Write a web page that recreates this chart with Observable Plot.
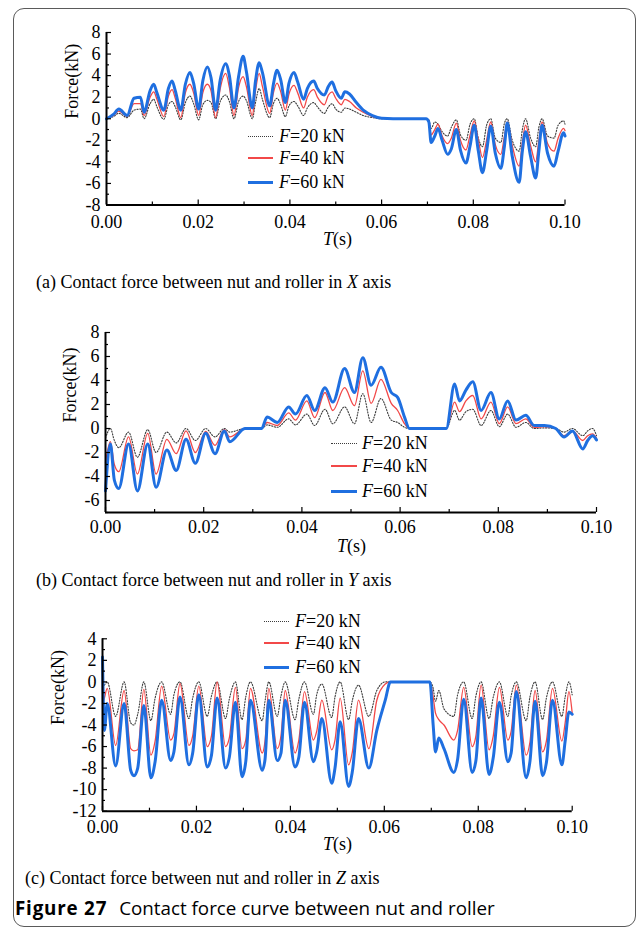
<!DOCTYPE html>
<html><head><meta charset="utf-8">
<script src="https://cdn.jsdelivr.net/npm/d3@7"></script>
<script src="https://cdn.jsdelivr.net/npm/@observablehq/plot@0.6"></script>
<style>
body{margin:0;background:#fff;}
#fig{position:relative;width:637px;height:929px;overflow:hidden;font-family:"Liberation Serif",serif;color:#000;background:#fff;}
#frame{position:absolute;left:13px;top:8px;width:623px;height:919px;border:1.3px solid #5a5a5a;border-radius:11px;box-sizing:border-box;}
.abs{position:absolute;white-space:nowrap;font-size:18px;line-height:18px;}
.sw{position:absolute;}
</style></head><body><div id="fig"><div id="frame"></div></div>
<script>
// ---------- data ----------
const seriesLabels = ["20", "40", "60"];
const xMajor = [0, 0.02, 0.04, 0.06, 0.08, 0.1];
const xMinor = [0.01, 0.03, 0.05, 0.07, 0.09];

// (a) X axis
const tA = [0,0.0015,0.0027,0.0045,0.006,0.0074,0.0082,0.0095,0.0103,0.011,
 0.0125,0.0135,0.0143,0.015,0.0162,0.0172,0.0182,0.019,0.0201,0.021,
 0.022,0.0228,0.0238,0.0248,0.026,0.0268,0.0278,0.0288,0.0298,0.0305,
 0.0318,0.0325,0.0333,0.034,0.0356,0.0364,0.0372,0.038,0.039,0.0398,
 0.0409,0.0417,0.043,0.0438,0.0452,0.046,0.0475,0.0484,0.0492,0.05,
 0.0512,0.052,0.053,0.0545,0.056,0.058,0.06,0.065,0.0697,0.0703,
 0.0708,0.0716,0.0723,0.0732,0.0744,0.0752,0.0763,0.0772,0.0784,0.0793,
 0.0802,0.0811,0.082,0.0829,0.0838,0.0848,0.086,0.0868,0.0874,0.0885,
 0.09,0.0907,0.0914,0.0925,0.0936,0.0943,0.095,0.0962,0.0976,0.0985,
 0.0997,0.1];
const a60 = [0,0.4,0.9,0.3,1.9,2.0,0.6,2.6,3.2,2.4,
 0.8,2.8,3.5,2.6,0.8,3.2,4.3,3.3,0.9,3.5,
 4.8,3.8,0.8,3.6,5.1,4.0,1.0,3.9,5.8,4.4,
 1.0,3.5,5.2,4.3,1.2,3.2,4.5,3.6,1.5,3.3,
 4.3,3.4,1.8,2.8,3.5,2.8,2.2,3.0,3.4,2.6,
 1.9,2.5,2.3,1.5,0.8,0.3,0.05,0,0,-0.3,
 -2.2,-1.6,-0.9,-2.0,-3.3,-2.8,-1.0,-2.9,-4.1,-2.5,
 -0.6,-3.0,-5.0,-3.0,-0.7,-3.2,-4.6,-2.5,-0.4,-3.5,
 -5.9,-3.0,-1.2,-3.5,-5.5,-3.0,-0.6,-3.2,-4.4,-3.0,
 -1.3,-1.6];
const a40 = [0,0.3,0.7,0.2,1.4,1.4,0.3,2.0,2.5,1.8,
 0.2,2.1,2.7,1.9,0.1,2.4,3.2,2.4,0.3,2.4,
 3.2,2.6,0.1,2.8,4.2,2.9,0.3,2.9,3.9,3.0,
 0.3,2.6,4.2,3.0,0.5,2.4,3.3,2.5,0.8,2.3,
 3.1,2.4,1.0,2.0,2.7,2.0,1.3,2.2,2.5,1.9,
 1.3,1.8,1.6,1.0,0.6,0.2,0.03,0,0,-0.2,
 -1.5,-1.0,-0.5,-1.6,-2.3,-1.8,-0.4,-2.0,-2.9,-1.5,
 -0.2,-2.0,-3.6,-2.0,-0.3,-2.4,-3.3,-1.6,-0.3,-2.5,
 -4.4,-2.2,-0.6,-2.5,-4.0,-2.0,-0.3,-2.3,-3.0,-1.8,
 -0.9,-1.1];
const a20 = [0,0.2,0.5,0.1,0.8,0.9,0.0,1.4,1.8,1.1,
 -0.05,1.3,1.6,1.1,-0.1,1.5,2.1,1.4,-0.1,1.3,
 1.7,1.5,0.0,1.6,2.2,1.6,0.0,1.6,2.1,1.7,
 0.0,1.5,2.8,1.8,0.1,1.4,1.9,1.3,0.2,1.2,
 1.6,1.2,0.3,1.0,1.5,1.1,0.5,1.1,1.4,0.9,
 0.6,1.0,0.9,0.6,0.3,0.1,0.0,0,0,-0.1,
 -0.9,-0.3,-0.5,-1.2,-1.6,-0.8,-0.1,-1.5,-2.0,-0.5,
 0.0,-1.8,-2.6,-0.6,0.0,-1.8,-2.2,-0.4,0.0,-2.0,
 -3.0,-1.0,0.0,-1.8,-2.6,-0.8,0.0,-1.6,-1.8,-0.6,
 -0.2,-0.5];
const yMajorA = [-8,-6,-4,-2,0,2,4,6,8];
const yMinorA = [-7,-5,-3,-1,1,3,5,7];

// (b) Y axis
const tB = [0,0.001,0.0018,0.0027,0.0047,0.0065,0.0086,0.0103,0.0125,0.0144,
 0.0164,0.0183,0.0204,0.0223,0.0242,0.0253,0.0284,0.0318,0.0329,0.035,
 0.0373,0.0387,0.041,0.0426,0.0447,0.0463,0.0487,0.0507,0.0524,0.0541,
 0.0561,0.0582,0.0595,0.0609,0.0619,0.0694,0.0711,0.0721,0.0734,0.0748,
 0.0765,0.0785,0.0802,0.0819,0.0836,0.0856,0.0873,0.0894,0.0917,0.0934,
 0.0951,0.0972,0.0982,0.0992,0.1];
const b60 = [-5.2,-1.3,-4.3,-5.0,-1.3,-5.2,-1.3,-4.9,-1.8,-3.5,
 -0.9,-2.9,-0.4,-2.1,-0.2,-1.1,0,0,0.95,0.5,
 1.8,1.2,2.75,1.5,3.4,2.2,5.0,3.0,5.9,3.6,
 5.1,3.0,2.6,0.95,0,0,3.7,2.3,3.2,3.9,
 1.5,3.0,0.8,2.3,0.7,1.1,0.25,0.25,0,-0.7,
 -0.2,-1.7,-1.0,-0.6,-0.95];
const b40 = [-2.8,-1.1,-3.0,-3.6,-0.7,-3.8,-0.4,-3.8,-0.9,-2.1,
 -0.2,-2.0,-0.25,-1.4,-0.1,-0.7,0,0,0.5,0.25,
 1.3,0.7,2.3,0.9,3.0,1.5,3.4,1.9,4.8,2.1,
 4.1,2.1,1.5,0.4,0,0,2.2,1.4,2.3,2.75,
 0.8,2.2,0.4,1.8,0.4,0.8,0.1,0.15,0,-0.6,
 -0.2,-1.0,-0.6,-0.45,-0.8];
const b20 = [-0.8,0,-1.0,-1.6,-0.3,-2.4,-0.1,-2.0,-0.3,-1.2,
 0,-1.0,0,-0.7,0,-0.3,0,0,0.3,0.1,
 0.8,0.3,1.2,0.25,1.6,0.4,1.8,0.4,2.9,0.5,
 2.5,0.7,0.5,0.1,0,0,1.5,0.7,1.4,1.6,
 0.25,1.5,0.15,1.2,0.1,0.5,0,0.05,0,-0.3,
 0,-0.6,-0.2,0,-0.6];
const yMajorB = [-6,-4,-2,0,2,4,6,8];
const yMinorB = [-7,-5,-3,-1,1,3,5,7];

// (c) Z axis
const tC = [0,0.0004,0.0010,0.0028,0.0046,0.0060,0.0067,0.0075,0.0088,0.0103,
 0.0112,0.0126,0.0145,0.0152,0.0165,0.0184,0.0192,0.0205,0.0223,0.0232,
 0.0244,0.0262,0.0270,0.0283,0.0297,0.0305,0.0315,0.0340,0.0346,0.0354,
 0.0372,0.0380,0.0389,0.0410,0.0418,0.0430,0.0449,0.0456,0.0467,0.0488,
 0.0495,0.0506,0.0524,0.0532,0.0545,0.0567,0.0584,0.0602,0.0613,0.0697,
 0.0704,0.0709,0.0716,0.0727,0.0748,0.0756,0.0769,0.0787,0.0795,0.0806,
 0.0823,0.0832,0.0845,0.0863,0.0870,0.0881,0.0902,0.0910,0.0921,0.0937,
 0.0945,0.0958,0.0978,0.0985,0.0993,0.1];
const c60 = [2.3,-4.5,-2.0,-7.8,-2.0,-8.2,-8.7,-8.0,-2.2,-8.9,
 -7.4,-1.7,-7.3,-6.5,-1.4,-7.7,-6.6,-1.2,-7.9,-6.8,
 -1.5,-8.0,-7.0,-1.9,-8.8,-7.4,-1.7,-8.2,-7.2,-1.7,
 -7.3,-6.6,-1.7,-7.9,-7.0,-1.9,-7.4,-6.5,-3.4,-9.4,
 -8.0,-3.7,-9.7,-8.3,-3.4,-8.0,-4.5,-1.7,0,0,
 -4.0,-6.5,-5.2,-6.2,-8.4,-7.2,-1.6,-8.4,-7.3,-1.5,
 -8.6,-7.0,-1.9,-7.4,-6.6,-0.9,-8.9,-7.4,-1.8,-8.7,
 -7.5,-1.7,-7.7,-5.5,-2.8,-3.0];
const c40 = [-2.0,-1.5,-0.6,-5.9,-0.8,-6.2,-6.4,-6.3,-0.7,-6.8,
 -5.5,-0.4,-5.4,-4.8,-0.15,-5.9,-5.0,-0.4,-6.0,-5.0,
 0,-6.0,-5.2,-0.5,-6.2,-5.4,-0.6,-6.6,-5.5,-0.6,
 -6.2,-5.0,-0.8,-6.6,-5.4,-0.9,-5.4,-4.6,-1.7,-6.3,
 -5.4,-1.5,-7.7,-6.5,-1.7,-6.2,-1.7,-0.2,0,0,
 -1.4,-2.9,-3.5,-4.0,-5.4,-4.5,-0.5,-6.0,-5.0,-0.3,
 -6.3,-5.0,-0.5,-5.4,-4.6,-0.3,-6.8,-5.6,-0.8,-6.5,
 -5.5,-0.6,-5.5,-3.8,-0.9,-2.9];
const c20 = [-0.5,-0.3,0,-3.2,0,-3.8,-4.0,-3.0,0,-3.6,
 -1.5,0,-3.0,-1.2,0,-3.4,-1.5,0,-3.2,-1.3,
 0,-3.4,-1.6,0,-3.5,-1.4,0,-3.6,-1.8,0,
 -3.2,-1.3,0,-3.5,-1.6,0,-3.0,-1.2,-0.2,-3.3,
 -1.4,0,-3.5,-1.7,-0.3,-3.2,-0.8,0,0,0,
 -0.6,-1.8,-0.8,-2.5,-3.2,-1.2,0,-3.4,-1.3,0,
 -3.4,-1.4,0,-3.2,-1.3,0,-3.6,-1.4,0,-3.5,
 -1.5,0,-3.2,-1.4,0,-1.2];
const yMajorC = [-12,-10,-8,-6,-4,-2,0,2,4];
const yMinorC = [-11,-9,-7,-5,-3,-1,1,3];

// ---------- drawing ----------
const fig = document.getElementById("fig");
const W = 637;
const lineStyles = [
  {stroke:"#3c3c3c", strokeWidth:1.1, strokeDasharray:"1.2,1.6"},
  {stroke:"#f24848", strokeWidth:1.3},
  {stroke:"#1f6fe0", strokeWidth:3}
];

function panel(cfg){
  const innerW = W - cfg.ml - cfg.mr;
  const innerH = cfg.h - cfg.mt - cfg.mb;
  const sets = cfg.series.map(vals => cfg.t.map((t,i)=>({t, v: vals[i]})));
  const svg = Plot.plot({
    width: W, height: cfg.h,
    marginTop: cfg.mt, marginBottom: cfg.mb, marginLeft: cfg.ml, marginRight: cfg.mr,
    x: {domain:[0,0.1]}, y: {domain: cfg.yDomain},
    style: {fontFamily:"Liberation Serif", fontSize:"18px", background:"transparent", color:"#000", overflow:"visible"},
    marks: [
      ...sets.map((d, si) => Plot.line(d, {x:"t", y:"v", ...lineStyles[si], curve:"monotone-x", strokeLinejoin:"round"})),
      Plot.ruleX([0], {strokeWidth:2}),
      Plot.ruleY([cfg.yDomain[0]], {strokeWidth:2}),
      Plot.tickX(xMinor, {x: d=>d, insetTop: innerH-3, strokeWidth:1.2}),
      Plot.tickX(xMajor, {x: d=>d, insetTop: innerH-5, strokeWidth:1.2}),
      Plot.tickY(cfg.yMinor, {y: d=>d, insetRight: innerW-3, strokeWidth:1.2}),
      Plot.tickY(cfg.yMajor, {y: d=>d, insetRight: innerW-5, strokeWidth:1.2}),
      Plot.axisX({ticks: xMajor, tickSize:0, tickPadding: cfg.xPad, tickFormat: d3.format(".2f"), label:null, fontSize:18}),
      Plot.axisY({ticks: cfg.yMajor, tickSize:0, tickPadding: cfg.yPad, tickFormat: d=>String(d), label:null, fontSize:18}),
      Plot.text(["Force(kN)"], {frameAnchor:"left", rotate:-90, dx: cfg.labelDx, fontSize:18, text: d=>d})
    ]
  });
  svg.style.position = "absolute";
  svg.style.left = "0px";
  svg.style.top = cfg.top + "px";
  fig.appendChild(svg);

  // axis title T(s)
  const tt = document.createElement("div");
  tt.className = "abs";
  tt.style.left = cfg.tLeft + "px"; tt.style.top = cfg.tTop + "px";
  tt.innerHTML = "<i>T</i>(s)";
  fig.appendChild(tt);

  // legend
  cfg.legendY.forEach((cy, i) => {
    const sw = document.createElement("div");
    sw.className = "sw";
    const st = lineStyles[i];
    sw.style.left = cfg.legX0 + "px";
    sw.style.width = (cfg.legX1 - cfg.legX0) + "px";
    if (i === 0) {
      sw.style.top = (cy - 0.5) + "px"; sw.style.height = "0px";
      sw.style.borderTop = "1.2px dotted " + st.stroke;
    } else {
      sw.style.top = (cy - st.strokeWidth/2) + "px";
      sw.style.height = st.strokeWidth + "px";
      sw.style.background = st.stroke;
    }
    fig.appendChild(sw);
    const lt = document.createElement("div");
    lt.className = "abs";
    lt.style.left = cfg.legText + "px"; lt.style.top = (cy - 9) + "px";
    lt.innerHTML = "<i>F</i>=" + seriesLabels[i] + " kN";
    fig.appendChild(lt);
  });

  // caption
  const cp = document.createElement("div");
  cp.className = "abs";
  cp.style.left = cfg.capLeft + "px"; cp.style.top = cfg.capTop + "px";
  cp.innerHTML = cfg.caption;
  fig.appendChild(cp);
}

panel({t:tA, series:[a20,a40,a60], yDomain:[-8,8], yMajor:yMajorA, yMinor:yMinorA,
  top:0, h:250, mt:32, mb:45.5, ml:106, mr:72.5, xPad:10, yPad:6, labelDx:-34,
  tLeft:323, tTop:230, legendY:[136,158,182], legX0:248, legX1:273, legText:279,
  capLeft:36, capTop:273, caption:"(a) Contact force between nut and roller in <i>X</i> axis"});
panel({t:tB, series:[b20,b40,b60], yDomain:[-7,8], yMajor:yMajorB, yMinor:yMinorB,
  top:300, h:260, mt:32, mb:48, ml:105, mr:41, xPad:8, yPad:6, labelDx:-35,
  tLeft:337, tTop:537, legendY:[443,466,491], legX0:331, legX1:357, legText:362,
  capLeft:36, capTop:571, caption:"(b) Contact force between nut and roller in <i>Y</i> axis"});
panel({t:tC, series:[c20,c40,c60], yDomain:[-12,4], yMajor:yMajorC, yMinor:yMinorC,
  top:600, h:260, mt:38.3, mb:49.3, ml:102, mr:65.3, xPad:9, yPad:6, labelDx:-44,
  tLeft:323, tTop:835, legendY:[621,643,667], legX0:264, legX1:289, legText:295,
  capLeft:25, capTop:869, caption:"(c) Contact force between nut and roller in <i>Z</i> axis"});

const fc = document.createElement("div");
fc.className = "abs";
fc.style.left = "15px"; fc.style.top = "897px";
fc.style.fontFamily = "'Open Sans', sans-serif"; fc.style.fontSize = "18.8px"; fc.style.lineHeight = "22px";
fc.innerHTML = "<b style='letter-spacing:0.8px;margin-right:12px'>Figure 27</b>Contact force curve between nut and roller";
fig.appendChild(fc);
</script></body></html>
